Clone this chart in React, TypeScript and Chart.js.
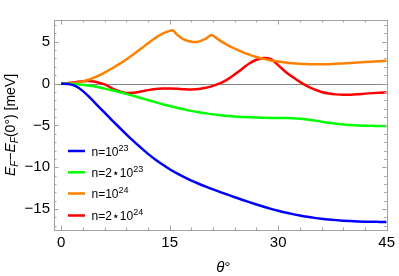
import React, { useEffect, useRef } from "react";
import { Chart, registerables } from "chart.js";

Chart.register(...registerables);

// ---- data ----
const xTickValues = [0, 15, 30, 45];
const yTickValues = [-15, -10, -5, 0, 5];
const xMinorStep = 3;
const yMinorStep = 1;

const seriesLabels = ["n=10^23", "n=2⋆10^23", "n=10^24", "n=2⋆10^24"];
const seriesColors = ["rgb(0,0,255)", "rgb(0,255,0)", "rgb(255,128,0)", "rgb(255,0,0)"];

const blueTheta = [0, 1, 2, 3, 4, 5, 6, 7, 8, 9, 10, 11, 12, 13, 14, 15, 16, 17, 18, 19, 20, 21, 22, 23, 24, 25, 26, 27, 28, 29, 30, 31, 32, 33, 34, 35, 36, 37, 38, 39, 40, 41, 42, 43, 44, 45];
const blueValues = [0, -0.05, -0.3, -0.9, -1.72, -2.6, -3.48, -4.36, -5.22, -6.06, -6.88, -7.66, -8.4, -9.07, -9.68, -10.24, -10.74, -11.19, -11.6, -11.97, -12.32, -12.65, -12.97, -13.28, -13.58, -13.88, -14.17, -14.45, -14.72, -14.97, -15.2, -15.41, -15.6, -15.77, -15.92, -16.05, -16.16, -16.25, -16.32, -16.38, -16.43, -16.47, -16.5, -16.52, -16.53, -16.54];

const greenTheta = [0, 1, 2, 3, 4, 5, 6, 7, 8, 9, 10, 11, 12, 13, 14, 15, 16, 17, 18, 19, 20, 21, 22, 23, 24, 25, 26, 27, 28, 29, 30, 31, 32, 33, 34, 35, 36, 37, 38, 39, 40, 41, 42, 43, 44, 45];
const greenValues = [0, -0.02, -0.07, -0.15, -0.27, -0.42, -0.6, -0.79, -1.0, -1.23, -1.47, -1.72, -1.97, -2.22, -2.46, -2.68, -2.89, -3.08, -3.26, -3.42, -3.56, -3.68, -3.78, -3.87, -3.94, -3.99, -4.03, -4.06, -4.08, -4.1, -4.11, -4.12, -4.14, -4.19, -4.28, -4.4, -4.55, -4.69, -4.81, -4.89, -4.95, -5.0, -5.03, -5.05, -5.07, -5.08];

const orangeTheta = [0, 1, 2, 3, 4, 5, 6, 7, 8, 9, 10, 11, 12, 13, 14, 15, 15.4, 16, 17, 18, 18.6, 19, 20, 20.8, 21.3, 22, 23, 24, 25, 26, 27, 28, 29, 30, 31, 32, 33, 34, 35, 36, 37, 38, 39, 40, 42, 45];
const orangeValues = [0, 0.02, 0.08, 0.26, 0.52, 0.88, 1.32, 1.8, 2.32, 2.88, 3.5, 4.15, 4.82, 5.45, 5.98, 6.3, 6.36, 5.85, 5.25, 5.0, 4.96, 5.02, 5.38, 5.8, 5.55, 5.1, 4.6, 4.17, 3.8, 3.47, 3.18, 2.95, 2.77, 2.63, 2.52, 2.43, 2.37, 2.33, 2.3, 2.3, 2.32, 2.36, 2.41, 2.46, 2.57, 2.72];

const redTheta = [0, 1, 2, 3, 3.7, 4.5, 5, 6, 7, 8, 9, 10, 11, 12, 13, 14, 15, 16, 17, 18, 19, 20, 21, 22, 23, 24, 25, 26, 27, 28, 28.6, 29, 30, 31, 32, 33, 34, 35, 36, 37, 38, 39, 40, 41, 42, 43, 44, 45];
const redValues = [0, 0.06, 0.17, 0.28, 0.31, 0.25, 0.15, -0.1, -0.55, -0.92, -1.12, -1.1, -0.95, -0.78, -0.66, -0.6, -0.59, -0.62, -0.67, -0.7, -0.66, -0.5, -0.27, 0.05, 0.5, 1.1, 1.75, 2.4, 2.85, 3.05, 3.03, 2.92, 2.2, 1.42, 0.78, 0.2, -0.3, -0.7, -1.0, -1.19, -1.29, -1.33, -1.32, -1.27, -1.2, -1.14, -1.09, -1.05];

const seriesTheta = [blueTheta, greenTheta, orangeTheta, redTheta];
const seriesValues = [blueValues, greenValues, orangeValues, redValues];

const FONT = "'Liberation Sans', Arial, sans-serif";

function drawRich(ctx: CanvasRenderingContext2D, parts: { t: string; italic?: boolean; sub?: boolean; sup?: boolean; size: number }[], x: number, y: number, align: "left" | "center") {
  const fontOf = (p: any) => `${p.italic ? "italic " : ""}${p.size}px ${FONT}`;
  let total = 0;
  for (const p of parts) {
    ctx.font = fontOf(p);
    total += ctx.measureText(p.t).width;
  }
  let cx = align === "center" ? x - total / 2 : x;
  for (const p of parts) {
    ctx.font = fontOf(p);
    const dy = p.sub ? 3 : p.sup ? -5 : 0;
    ctx.fillText(p.t, cx, y + dy);
    cx += ctx.measureText(p.t).width;
  }
}

const framePlugin = {
  id: "framePlugin",
  beforeDatasetsDraw(chart: any) {
    const { ctx, chartArea } = chart;
    const y0 = chart.scales.y.getPixelForValue(0);
    ctx.save();
    ctx.strokeStyle = "#888";
    ctx.lineWidth = 1;
    ctx.beginPath();
    ctx.moveTo(chartArea.left, Math.round(y0) + 0.5);
    ctx.lineTo(chartArea.right, Math.round(y0) + 0.5);
    ctx.stroke();
    ctx.restore();
  },
  afterDraw(chart: any) {
    const { ctx, chartArea } = chart;
    const { left, right, top, bottom } = chartArea;
    const xs = chart.scales.x;
    const ys = chart.scales.y;
    ctx.save();
    ctx.strokeStyle = "#a0a0a0";
    ctx.lineWidth = 1;
    ctx.strokeRect(Math.round(left) + 0.5, Math.round(top) + 0.5, Math.round(right - left), Math.round(bottom - top));
    // ticks
    ctx.beginPath();
    for (let v = 0; v <= xs.max + 1e-9; v += xMinorStep) {
      const px = Math.round(xs.getPixelForValue(v)) + 0.5;
      const len = xTickValues.includes(v) ? 4.5 : 2.5;
      ctx.moveTo(px, bottom);
      ctx.lineTo(px, bottom - len);
      ctx.moveTo(px, top);
      ctx.lineTo(px, top + len);
    }
    for (let v = Math.ceil(ys.min); v <= ys.max; v += yMinorStep) {
      const py = Math.round(ys.getPixelForValue(v)) + 0.5;
      const len = yTickValues.includes(v) ? 4.5 : 2.5;
      ctx.moveTo(left, py);
      ctx.lineTo(left + len, py);
      ctx.moveTo(right, py);
      ctx.lineTo(right - len, py);
    }
    ctx.stroke();

    // legend
    ctx.fillStyle = "#000";
    ctx.textBaseline = "alphabetic";
    ctx.textAlign = "left";
    const rowY = [151, 172.3, 193.5, 215.5];
    seriesLabels.forEach((lab, i) => {
      const y = rowY[i];
      ctx.strokeStyle = seriesColors[i];
      ctx.lineWidth = 2.5;
      ctx.beginPath();
      ctx.moveTo(68, y);
      ctx.lineTo(85, y);
      ctx.stroke();
      const [base, exp] = lab.split("^");
      drawRich(ctx, [
        { t: base, size: 12 },
        { t: exp, size: 9, sup: true },
      ], 91.5, y + 4.5, "left");
    });

    // y title
    ctx.save();
    ctx.translate(15, (top + bottom) / 2);
    ctx.rotate(-Math.PI / 2);
    ctx.fillStyle = "#000";
    drawRich(ctx, [
      { t: "E", italic: true, size: 14 },
      { t: "F", italic: true, sub: true, size: 10 },
      { t: "−", size: 14 },
      { t: "E", italic: true, size: 14 },
      { t: "F", italic: true, sub: true, size: 10 },
      { t: "(0°) [meV]", size: 14 },
    ], 0, 0, "center");
    ctx.restore();

    // x title
    ctx.fillStyle = "#000";
    drawRich(ctx, [
      { t: "θ", italic: true, size: 15 },
      { t: "°", size: 15 },
    ], (left + right) / 2 + 3, 272, "center");
    ctx.restore();
  },
};

export default function App() {
  const ref = useRef<HTMLCanvasElement | null>(null);
  useEffect(() => {
    if (!ref.current) return;
    const datasets = seriesLabels.map((lab, i) => ({
      label: lab,
      data: seriesTheta[i].map((x, j) => ({ x, y: seriesValues[i][j] })),
      borderColor: seriesColors[i],
      backgroundColor: seriesColors[i],
      borderWidth: 2.5,
      pointRadius: 0,
      cubicInterpolationMode: "monotone" as const,
      fill: false,
    }));
    const chart = new Chart(ref.current, {
      type: "line",
      data: { datasets },
      options: {
        animation: false,
        responsive: false,
        events: [],
        layout: { padding: { top: 20, right: 9, left: 0, bottom: 0 } },
        plugins: { legend: { display: false }, tooltip: { enabled: false } },
        scales: {
          x: {
            type: "linear",
            min: -1,
            max: 45,
            grid: { display: false, drawTicks: false },
            border: { display: false },
            afterBuildTicks: (s: any) => { s.ticks = xTickValues.map((v) => ({ value: v })); },
            afterFit: (s: any) => { s.height = 46; },
            ticks: {
              padding: 4,
              color: "#000",
              font: { family: FONT, size: 15 },
              maxRotation: 0,
              autoSkip: false,
              callback: (v: any) => String(v),
            },
          },
          y: {
            type: "linear",
            min: -17.5,
            max: 7.6,
            grid: { display: false, drawTicks: false },
            border: { display: false },
            afterBuildTicks: (s: any) => { s.ticks = yTickValues.map((v) => ({ value: v })); },
            afterFit: (s: any) => { s.width = 54; },
            ticks: {
              padding: 4,
              color: "#000",
              font: { family: FONT, size: 15 },
              autoSkip: false,
              callback: (v: any) => (v < 0 ? "−" + Math.abs(v) : String(v)),
            },
          },
        },
      },
      plugins: [framePlugin],
    });
    return () => chart.destroy();
  }, []);
  return (
    <div style={{ position: "fixed", left: 0, top: 0, width: 399, height: 276, background: "#fff" }}>
      <canvas ref={ref} width={399} height={276} style={{ display: "block" }} />
    </div>
  );
}
